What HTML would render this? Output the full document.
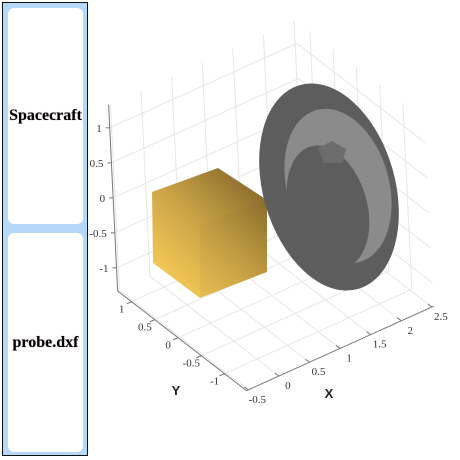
<!DOCTYPE html>
<html><head><meta charset="utf-8"><style>
body{margin:0;width:460px;height:460px;background:#fff;overflow:hidden;font-family:"Liberation Serif",serif}
#side{position:absolute;left:2px;top:2px;width:84px;height:452px;background:#b6d8f8;border:1.5px solid #111}
.card{position:absolute;left:5px;width:75px;background:#fff;border-radius:6px;display:flex;align-items:center;justify-content:center;font-weight:bold;font-size:16px;text-shadow:0 0 1px #a88;}
svg{position:absolute;left:0;top:0}
text{font-family:"Liberation Serif",serif;font-size:11px;fill:#333}
</style></head><body>
<div id="side">
<div class="card" style="top:5px;height:216px">Spacecraft</div>
<div class="card" style="top:230px;height:219px">probe.dxf</div>
</div>
<svg id="chart" width="460" height="460">
<defs>
<linearGradient id="gold" x1="0.1" y1="1" x2="0.95" y2="0">
<stop offset="0" stop-color="#ffd25a"/><stop offset="0.5" stop-color="#c9a246"/><stop offset="1" stop-color="#7a5e26"/>
</linearGradient>
</defs>
<g id="grid"></g><g id="axes"></g>
<g>
<polygon points="152,192 218,168 267,200 267,272 200,298 153,263" fill="url(#gold)"/>
<polygon points="200,225 267,200 267,272 200,298" fill="#6b4f1a" opacity="0.05"/>
</g>
<g>
<ellipse cx="329" cy="187" rx="66" ry="106" transform="rotate(-16 329 187)" fill="#5d5d5d"/>
<ellipse cx="338" cy="186" rx="51" ry="79" transform="rotate(-16 338 186)" fill="#8b8b8b"/>
<ellipse cx="328" cy="207" rx="39" ry="63" transform="rotate(-16 328 207)" fill="#5d5d5d"/>
<polygon points="318,148 332,141 346,149 342,163 324,163" fill="#6c6c6c"/>
</g>
</svg>
<script>
const xTicks=[-0.5,0,0.5,1,1.5,2,2.5];
const yTicks=[-1,-0.5,0,0.5,1];
const zTicks=[-1,-0.5,0,0.5,1];
const xr=[-0.53,2.53], yr=[-1.47,1.3], zr=[-1.33,1.33];
const O=[206,230], ex=[61.2,-27.6], ey=[-46.5,-36], ez=[-3.4,-70];
function P(x,y,z){return [O[0]+x*ex[0]+y*ey[0]+z*ez[0], O[1]+x*ex[1]+y*ey[1]+z*ez[1]];}
const NS='http://www.w3.org/2000/svg';
const grid=document.getElementById('grid'), axes=document.getElementById('axes');
function line(g,a,b,col,name){const l=document.createElementNS(NS,'line');
l.setAttribute('x1',a[0]);l.setAttribute('y1',a[1]);l.setAttribute('x2',b[0]);l.setAttribute('y2',b[1]);
l.setAttribute('stroke',col);l.setAttribute('stroke-width','1');


g.appendChild(l);}
function txt(p,s,anchor,name,bold){const t=document.createElementNS(NS,'text');
t.setAttribute('x',p[0]);t.setAttribute('y',p[1]);t.setAttribute('text-anchor',anchor);t.textContent=s;
if(bold){t.setAttribute('style','font-family:"Liberation Sans",sans-serif;font-weight:bold;font-size:13px;fill:#222');}


axes.appendChild(t);}
const gc='#e6e6e6';
xTicks.forEach(x=>{line(grid,P(x,yr[0],zr[0]),P(x,yr[1],zr[0]),gc,'floor-grid-x');line(grid,P(x,yr[1],zr[0]),P(x,yr[1],zr[1]),gc,'wall-grid-x');});
yTicks.forEach(y=>{line(grid,P(xr[0],y,zr[0]),P(xr[1],y,zr[0]),gc,'floor-grid-y');line(grid,P(xr[1],y,zr[0]),P(xr[1],y,zr[1]),gc,'wall-grid-y');});
zTicks.forEach(z=>{line(grid,P(xr[0],yr[1],z),P(xr[1],yr[1],z),gc,'back-grid-z');line(grid,P(xr[1],yr[1],z),P(xr[1],yr[0],z),gc,'side-grid-z');});
const ac='#777';
line(axes,P(xr[0],yr[0],zr[0]),P(xr[1],yr[0],zr[0]),ac,'x-axis-line');
line(axes,P(xr[0],yr[0],zr[0]),P(xr[0],yr[1],zr[0]),ac,'y-axis-line');
line(axes,P(xr[0],yr[1],zr[0]),P(xr[0],yr[1],zr[1]),ac,'z-axis-line');
xTicks.forEach(x=>{const p=P(x,yr[0],zr[0]);line(axes,p,[p[0]-4,p[1]-3],ac,'x-tick');txt([p[0]+9,p[1]+13],String(x),'middle','x-tick-label');});
yTicks.forEach(y=>{const p=P(xr[0],y,zr[0]);line(axes,p,[p[0]-5,p[1]+2],ac,'y-tick');txt([p[0]-10,p[1]+11],String(y),'middle','y-tick-label');});
zTicks.forEach(z=>{const p=P(xr[0],yr[1],z);line(axes,p,[p[0]-4,p[1]],ac,'z-tick');txt([p[0]-8,p[1]+4],String(z),'end','z-tick-label');});
txt([176,395],'Y','middle','y-axis-title',true);
txt([329,398],'X','middle','x-axis-title',true);
</script>
</body></html>
